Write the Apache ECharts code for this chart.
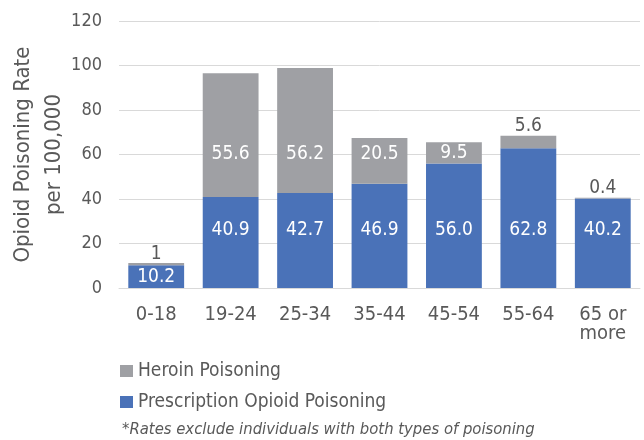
<!DOCTYPE html>
<html>
<head>
<meta charset="utf-8">
<script src="https://cdn.jsdelivr.net/npm/echarts@6/dist/echarts.min.js"></script>
<style>
html,body{margin:0;padding:0;background:#fff;}
#c{width:644px;height:440px;}
</style>
</head>
<body>
<div id="c"></div>
<script>
const categories = ['0-18', '19-24', '25-34', '35-44', '45-54', '55-64', '65 or\nmore'];
const prescription = [10.2, 40.9, 42.7, 46.9, 56.0, 62.8, 40.2];
const heroin = [1, 55.6, 56.2, 20.5, 9.5, 5.6, 0.4];
const heroinLabels = ['1', '55.6', '56.2', '20.5', '9.5', '5.6', '0.4'];
const prescriptionLabels = ['10.2', '40.9', '42.7', '46.9', '56.0', '62.8', '40.2'];
const yTicks = [0, 20, 40, 60, 80, 100, 120];

const FONT = '"DejaVu Sans Condensed", "Noto Sans", sans-serif';
const TXT = '#595959';
// label rows used in the original (value level on the axis where the labels sit)
const BLUE_LABEL_LEVEL = 26.2;
const GRAY_LABEL_LEVEL = 60;
const SMALL_SEGMENT = 6;

function buildData(chart) {
  const px = v => chart ? chart.convertToPixel({ yAxisIndex: 0 }, v) : 0;
  const inside = (lo, hi, level) => {
    if (!chart) return [0, 0];
    const c = (px(lo) + px(hi)) / 2;
    const pad = 5;
    if (level > lo + pad && level < hi - pad) return [0, px(level) - c];
    return [0, 0];
  };
  const pData = prescription.map((v, i) => ({
    value: v,
    label: { show: true, position: 'inside', color: '#ffffff',
      offset: inside(0, v, BLUE_LABEL_LEVEL), formatter: prescriptionLabels[i] }
  }));
  const hData = heroin.map((v, i) => {
    const lo = prescription[i], hi = lo + v;
    if (v < SMALL_SEGMENT) {
      return { value: v, label: { show: true, position: 'top', distance: 0, color: TXT, formatter: heroinLabels[i] } };
    }
    return { value: v, label: { show: true, position: 'inside', color: '#ffffff',
      offset: inside(lo, hi, GRAY_LABEL_LEVEL), formatter: heroinLabels[i] } };
  });
  return [pData, hData];
}

const chart = echarts.init(document.getElementById('c'));
const init = buildData(null);
chart.setOption({
  animation: false,
  textStyle: { fontFamily: FONT },
  title: {
    text: '*Rates exclude individuals with both types of poisoning',
    left: 122, top: 420, padding: 0,
    textStyle: { fontFamily: FONT, fontSize: 16.5, lineHeight: 20, fontStyle: 'italic', fontWeight: 'normal', color: TXT }
  },
  legend: {
    orient: 'vertical',
    left: 120, top: 361, padding: 0,
    itemWidth: 13, itemHeight: 12, itemGap: 11,
    icon: 'rect',
    data: ['Heroin Poisoning', 'Prescription Opioid Poisoning'],
    textStyle: { fontFamily: FONT, fontSize: 19, lineHeight: 20, color: TXT }
  },
  grid: { left: 119, right: 4, top: 21, bottom: 152, containLabel: false, outerBoundsMode: 'none' },
  xAxis: {
    type: 'category',
    data: categories,
    axisLine: { lineStyle: { color: '#d9d9d9', width: 1 } },
    axisTick: { show: false },
    axisLabel: { color: TXT, fontSize: 20, fontFamily: FONT, margin: 17, lineHeight: 19 }
  },
  yAxis: {
    type: 'value',
    min: 0, max: 120, interval: 20,
    name: 'Opioid Poisoning Rate\nper 100,000',
    nameLocation: 'middle',
    nameGap: 49,
    nameMoveOverlap: false,
    nameTextStyle: { color: TXT, fontSize: 22, fontFamily: FONT, lineHeight: 31 },
    axisLine: { show: false },
    axisTick: { show: false },
    splitLine: { lineStyle: { color: '#d9d9d9', width: 1 } },
    axisLabel: { color: TXT, fontSize: 18, fontFamily: FONT, margin: 17,
      formatter: v => yTicks.includes(v) ? String(v) : '' }
  },
  series: [
    {
      name: 'Prescription Opioid Poisoning',
      type: 'bar', stack: 'total',
      barCategoryGap: '25%',
      itemStyle: { color: '#4A72B8' },
      label: { fontSize: 19, fontFamily: FONT },
      data: init[0]
    },
    {
      name: 'Heroin Poisoning',
      type: 'bar', stack: 'total',
      barCategoryGap: '25%',
      itemStyle: { color: '#9FA0A4' },
      label: { fontSize: 19, fontFamily: FONT },
      data: init[1]
    }
  ]
});
const finalData = buildData(chart);
chart.setOption({ series: [{ data: finalData[0] }, { data: finalData[1] }] });
</script>
</body>
</html>
